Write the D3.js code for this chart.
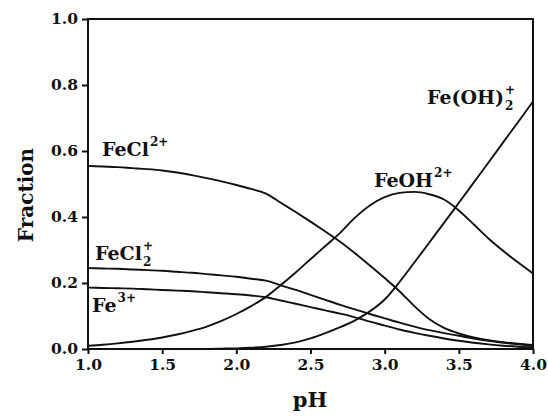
<!DOCTYPE html>
<html>
<head>
<meta charset="utf-8">
<script src="https://cdn.jsdelivr.net/npm/d3@7"></script>
<style>
  html, body { margin: 0; padding: 0; background: #fff; }
  svg { display: block; }
  text { font-family: "DejaVu Serif", serif; font-weight: bold; fill: #111; }
</style>
</head>
<body>
<svg id="chart" width="548" height="416"></svg>
<script>
// pH grid shared by every species
const pH = [1.0, 1.1, 1.2, 1.3, 1.4, 1.5, 1.6, 1.7, 1.8, 1.9,
            2.0, 2.1, 2.2, 2.3, 2.4, 2.5, 2.6, 2.7, 2.8, 2.9,
            3.0, 3.1, 3.2, 3.3, 3.4, 3.5, 3.6, 3.7, 3.8, 3.9, 4.0];

// Species fractions at each pH
const feCl = [0.555, 0.553, 0.551, 0.548, 0.545, 0.541, 0.535, 0.527, 0.518, 0.508,
              0.497, 0.485, 0.471, 0.443, 0.415, 0.386, 0.356, 0.325, 0.290, 0.253,
              0.215, 0.175, 0.130, 0.091, 0.064, 0.047, 0.035, 0.027, 0.021, 0.016, 0.012];
const feCl2 = [0.245, 0.244, 0.243, 0.241, 0.239, 0.237, 0.234, 0.231, 0.227, 0.223,
               0.219, 0.213, 0.207, 0.193, 0.179, 0.164, 0.149, 0.134, 0.120, 0.106,
               0.093, 0.080, 0.068, 0.057, 0.048, 0.040, 0.032, 0.025, 0.019, 0.014, 0.009];
const fe3 = [0.186, 0.185, 0.184, 0.183, 0.181, 0.179, 0.177, 0.175, 0.172, 0.169,
             0.166, 0.162, 0.157, 0.147, 0.137, 0.127, 0.117, 0.107, 0.096, 0.083,
             0.071, 0.059, 0.049, 0.040, 0.032, 0.025, 0.019, 0.014, 0.010, 0.007, 0.005];
const feOH = [0.010, 0.013, 0.017, 0.022, 0.028, 0.035, 0.044, 0.055, 0.068, 0.085,
              0.106, 0.130, 0.158, 0.194, 0.232, 0.272, 0.312, 0.352, 0.398, 0.435,
              0.460, 0.473, 0.476, 0.469, 0.453, 0.420, 0.378, 0.335, 0.297, 0.262, 0.229];
const feOH2 = [0.000, 0.000, 0.000, 0.000, 0.000, 0.000, 0.000, 0.000, 0.000, 0.001,
               0.002, 0.004, 0.007, 0.012, 0.020, 0.032, 0.048, 0.066, 0.087, 0.114,
               0.150, 0.203, 0.262, 0.322, 0.382, 0.443, 0.504, 0.565, 0.627, 0.688, 0.750];

const xTicks = [1.0, 1.5, 2.0, 2.5, 3.0, 3.5, 4.0];
const yTicks = [0.0, 0.2, 0.4, 0.6, 0.8, 1.0];

const series = [feCl, feCl2, fe3, feOH, feOH2];

const svg = d3.select("#chart");
const plotLeft = 88, plotRight = 533, plotTop = 19, plotBottom = 349;

const x = d3.scaleLinear().domain([1, 4]).range([plotLeft, plotRight]);
const y = d3.scaleLinear().domain([0, 1]).range([plotBottom, plotTop]);

// Curves
const line = d3.line()
  .x((d, i) => x(pH[i]))
  .y(d => y(d))
  .curve(d3.curveMonotoneX);

svg.append("g")
  .selectAll("path")
  .data(series)
  .join("path")
  .attr("d", line)
  .attr("fill", "none")
  .attr("stroke", "#111")
  .attr("stroke-width", 1.9);

// Frame
svg.append("rect")
  .attr("x", plotLeft).attr("y", plotTop)
  .attr("width", plotRight - plotLeft).attr("height", plotBottom - plotTop)
  .attr("fill", "none").attr("stroke", "#111").attr("stroke-width", 2);

// Axes
const xAxis = svg.append("g")
  .attr("transform", `translate(0,${plotBottom})`)
  .call(d3.axisBottom(x).tickValues(xTicks).tickFormat(d3.format(".1f")).tickSize(5).tickPadding(5));
const yAxis = svg.append("g")
  .attr("transform", `translate(${plotLeft},0)`)
  .call(d3.axisLeft(y).tickValues(yTicks).tickFormat(d3.format(".1f")).tickSize(6).tickPadding(4));

[xAxis, yAxis].forEach(g => {
  g.select(".domain").remove();
  g.selectAll("line").attr("stroke", "#111").attr("stroke-width", 2);
  g.selectAll("text").attr("font-size", 15.5).attr("font-family", "DejaVu Serif").attr("font-weight", "bold").attr("fill", "#111");
});

// Axis titles
svg.append("text")
  .attr("x", 310).attr("y", 407)
  .attr("text-anchor", "middle")
  .attr("font-size", 21)
  .text("pH");
svg.append("text")
  .attr("transform", "translate(33,195) rotate(-90)")
  .attr("text-anchor", "middle")
  .attr("font-size", 20)
  .text("Fraction");

// Species labels: main formula with optional superscript / subscript
function label(xPos, yPos, main, sup, sub) {
  const t = svg.append("text")
    .attr("x", xPos).attr("y", yPos)
    .attr("font-size", 19)
    .text(main);
  const end = xPos + t.node().getComputedTextLength() + 1;
  if (sup) {
    svg.append("text").attr("x", end).attr("y", yPos - 10)
      .attr("font-size", 12).text(sup);
  }
  if (sub) {
    svg.append("text").attr("x", end).attr("y", yPos + 6)
      .attr("font-size", 12).text(sub);
  }
}

label(102, 156, "FeCl", "2+");
label(95, 260, "FeCl", "+", "2");
label(92, 312, "Fe", "3+");
label(374, 187, "FeOH", "2+");
label(427, 104, "Fe(OH)", "+", "2");
</script>
</body>
</html>
